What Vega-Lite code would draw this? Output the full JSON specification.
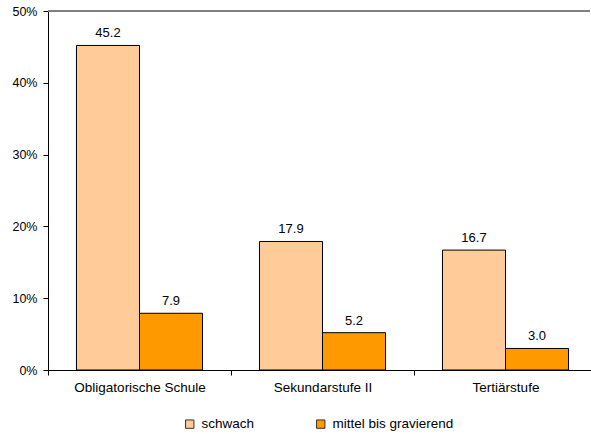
{
  "$schema": "https://vega.github.io/schema/vega-lite/v6.json",
  "width": 542,
  "height": 359,
  "autosize": "none",
  "padding": {"left": 48, "top": 11, "right": 1, "bottom": 64},
  "background": "white",
  "config": {
    "view": {"stroke": null},
    "font": "Liberation Sans",
    "axis": {"labelFont": "Liberation Sans", "labelColor": "black", "domainColor": "black", "tickColor": "black", "grid": false}
  },
  "data": {
    "values": [
      {"stufe": "Obligatorische Schule", "grad": "schwach", "wert": 45.2},
      {"stufe": "Obligatorische Schule", "grad": "mittel bis gravierend", "wert": 7.9},
      {"stufe": "Sekundarstufe II", "grad": "schwach", "wert": 17.9},
      {"stufe": "Sekundarstufe II", "grad": "mittel bis gravierend", "wert": 5.2},
      {"stufe": "Tertiärstufe", "grad": "schwach", "wert": 16.7},
      {"stufe": "Tertiärstufe", "grad": "mittel bis gravierend", "wert": 3.0}
    ]
  },
  "encoding": {
    "x": {
      "field": "stufe", "type": "nominal", "sort": null,
      "scale": {"paddingInner": 0, "paddingOuter": 0, "range": [0, 549]},
      "axis": {"title": null, "labelAngle": 0, "tickBand": "extent", "tickSize": 5, "labelPadding": 5, "labelFontSize": 13.5}
    },
    "xOffset": {
      "field": "grad", "type": "nominal", "sort": ["schwach", "mittel bis gravierend"],
      "scale": {"paddingInner": 0, "paddingOuter": 0.452}
    },
    "y": {
      "field": "wert", "type": "quantitative",
      "scale": {"domain": [0, 50]},
      "axis": {"title": null, "values": [0, 10, 20, 30, 40, 50], "labelExpr": "datum.value + '%'", "tickSize": 5, "labelPadding": 6, "labelFontSize": 12.5}
    }
  },
  "layer": [
    {
      "mark": {"type": "bar", "stroke": "black", "strokeWidth": 1},
      "encoding": {
        "color": {
          "field": "grad", "type": "nominal", "sort": ["schwach", "mittel bis gravierend"],
          "scale": {"domain": ["schwach", "mittel bis gravierend"], "range": ["#FFCC99", "#FF9900"]},
          "legend": {
            "title": null, "orient": "none", "direction": "horizontal",
            "legendX": 135, "legendY": 406,
            "symbolType": "square", "symbolSize": 70, "symbolStrokeColor": "#333", "symbolStrokeWidth": 1,
            "labelFontSize": 13.5, "labelFont": "Liberation Sans", "labelColor": "black",
            "columnPadding": 59, "labelOffset": 5
          }
        }
      }
    },
    {
      "mark": {"type": "text", "dy": -12, "fontSize": 13, "font": "Liberation Sans", "color": "black"},
      "encoding": {
        "text": {"field": "wert", "type": "quantitative", "format": ".1f"}
      }
    },
    {
      "mark": {"type": "rule", "color": "#808080", "strokeWidth": 1.5},
      "encoding": {"y": {"datum": 50}, "x": null, "xOffset": null}
    }
  ]
}
